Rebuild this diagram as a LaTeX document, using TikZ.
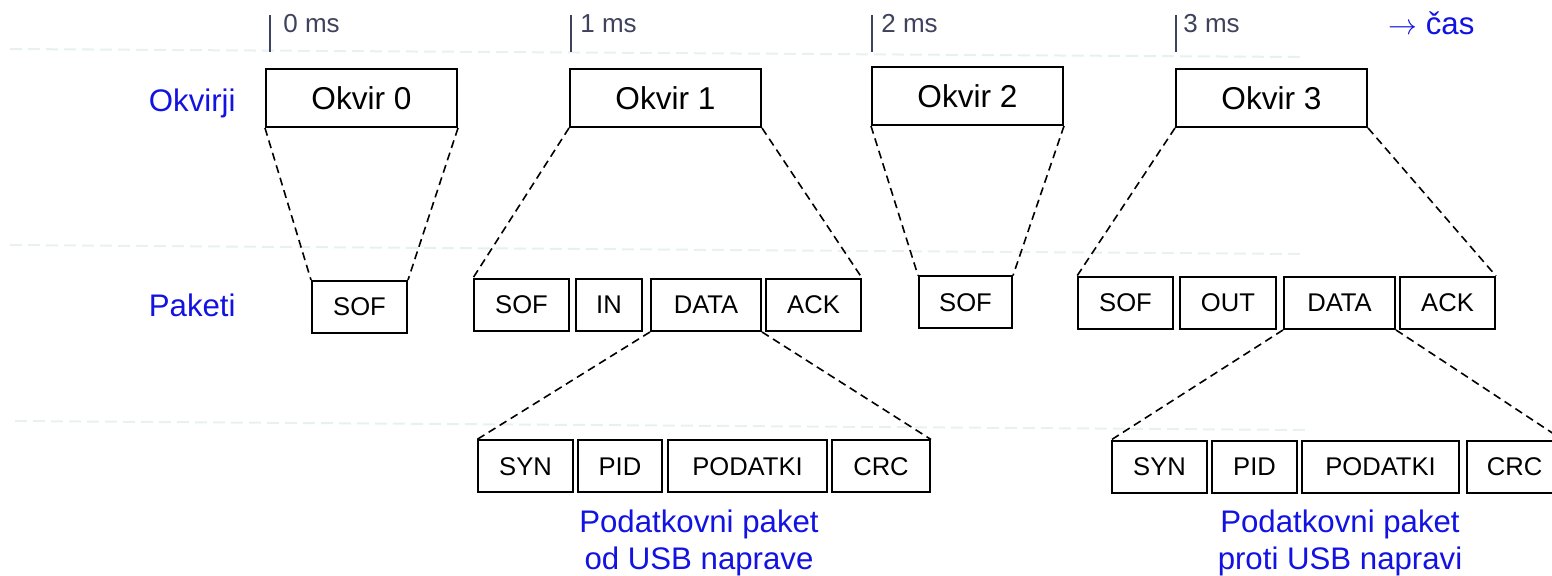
\documentclass[tikz,border=0pt]{standalone}
\usepackage{fontspec}
\setmainfont{Liberation Sans}
\usepackage{xcolor}
\usepackage{tikz}
\usetikzlibrary{positioning}

\definecolor{lblblue}{RGB}{18,18,226}
\definecolor{tickgray}{RGB}{62,66,92}
\definecolor{guidegray}{RGB}{232,240,240}

\tikzset{
  frm/.style={draw, line width=1pt, minimum width=95.5pt, minimum height=29pt, inner sep=0pt,
    font=\fontsize{15.8}{18}\selectfont},
  pkt/.style={draw, line width=1pt, minimum height=26pt, inner sep=0pt,
    font=\fontsize{12.8}{15}\selectfont},
  lbl/.style={text=lblblue, inner sep=0pt, font=\fontsize{15.6}{18.5}\selectfont},
  ticklbl/.style={text=tickgray, inner sep=0pt, anchor=base west, font=\fontsize{13}{15}\selectfont},
  zoomline/.style={line width=0.8pt, dash pattern=on 4pt off 2.5pt},
  guide/.style={guidegray, line width=1pt, dash pattern=on 6pt off 3pt}
}

\begin{document}
\begin{tikzpicture}[x=0.5pt, y=-0.5pt]
\useasboundingbox (0,0) rectangle (1552,576);
% faint guide lines between the rows
\draw[guide] (10,49) -- (1300,57);
\draw[guide] (10,245) -- (1300,254);
\draw[guide] (15,421) -- (1305,430);
% time axis
\foreach \x/\lx/\t in {270/283/0, 571/580/1, 872/881/2, 1176/1183/3} {
  \draw[tickgray, line width=1pt] (\x,15) -- (\x,52);
  \node[ticklbl] (ms\t) at (\lx,33) {\t\ ms};
}
\node[lbl, anchor=base west] (cas) at (1388,35) {$\rightarrow$ čas};
% row labels
\node[lbl, anchor=base east] (okvirji) at (236,112) {Okvirji};
\node[lbl, anchor=base east] (paketi) at (236,317) {Paketi};
% frames
\node[frm] (f0) at (361.5,98) {Okvir 0};
\node[frm] (f1) at (665.5,98) {Okvir 1};
\node[frm] (f2) at (967.5,96) {Okvir 2};
\node[frm] (f3) at (1271.5,98) {Okvir 3};
% packets
\node[pkt, minimum width=47.5pt] (p0sof) at (359.5,307) {SOF};
\node[pkt, minimum width=47.5pt] (p1sof) at (521.5,305) {SOF};
\node[pkt, minimum width=33pt] (p1in) at (609,305) {IN};
\node[pkt, minimum width=55pt] (p1data) at (706,305) {DATA};
\node[pkt, minimum width=47.5pt] (p1ack) at (813.5,305) {ACK};
\node[pkt, minimum width=46.5pt] (p2sof) at (965.5,302.5) {SOF};
\node[pkt, minimum width=47.5pt] (p3sof) at (1125.5,303) {SOF};
\node[pkt, minimum width=48pt] (p3out) at (1228,303) {OUT};
\node[pkt, minimum width=55.5pt] (p3data) at (1339.5,303) {DATA};
\node[pkt, minimum width=47.5pt] (p3ack) at (1447.5,303) {ACK};
% fields of the data packets
\node[pkt, minimum width=47.5pt] (d1syn) at (525.5,466.5) {SYN};
\node[pkt, minimum width=42pt] (d1pid) at (620,466.5) {PID};
\node[pkt, minimum width=79.5pt] (d1pod) at (747.5,466.5) {PODATKI};
\node[pkt, minimum width=49pt] (d1crc) at (881,466.5) {CRC};
\node[pkt, minimum width=47.5pt] (d3syn) at (1159.5,467) {SYN};
\node[pkt, minimum width=42.5pt] (d3pid) at (1254.5,467) {PID};
\node[pkt, minimum width=78.5pt] (d3pod) at (1380.5,467) {PODATKI};
\node[pkt, minimum width=47.5pt] (d3crc) at (1514.5,467) {CRC};
% captions
\node[lbl, align=center] (capin) at (699,543) {Podatkovni paket\\od USB naprave};
\node[lbl, align=center] (capout) at (1340,543) {Podatkovni paket\\proti USB napravi};
% zoom lines frame -> packets
\draw[zoomline] (f0.south west) -- (p0sof.north west);
\draw[zoomline] (f0.south east) -- (p0sof.north east);
\draw[zoomline] (f1.south west) -- (p1sof.north west);
\draw[zoomline] (f1.south east) -- (p1ack.north east);
\draw[zoomline] (f2.south west) -- (p2sof.north west);
\draw[zoomline] (f2.south east) -- (p2sof.north east);
\draw[zoomline] (f3.south west) -- (p3sof.north west);
\draw[zoomline] (f3.south east) -- (p3ack.north east);
% zoom lines data packet -> fields
\draw[zoomline] (p1data.south west) -- (d1syn.north west);
\draw[zoomline] (p1data.south east) -- (d1crc.north east);
\draw[zoomline] (p3data.south west) -- (d3syn.north west);
\draw[zoomline] (p3data.south east) -- (d3crc.north east);
\end{tikzpicture}
\end{document}
